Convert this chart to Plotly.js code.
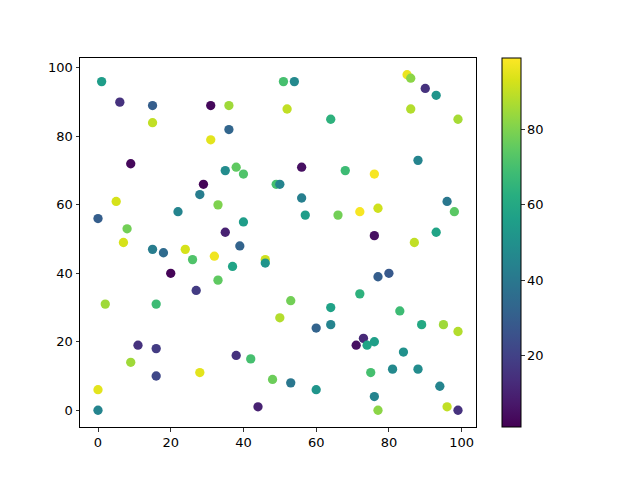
<!DOCTYPE html>
<html>
<head>
<meta charset="utf-8">
<script src="https://cdn.plot.ly/plotly-3.0.1.min.js"></script>
<style>
  html, body { margin: 0; padding: 0; background: #fff; }
  #chart { width: 640px; height: 480px; }
</style>
</head>
<body>
<div id="chart"></div>
<script>
// point positions
var xs = [1, 6, 15, 31, 36, 15, 36, 31, 9, 35,
          38, 40, 5, 29, 28, 33, 22, 40, 35, 8,
          0, 7, 15, 18, 24, 26, 39, 32, 37, 46,
          46, 20, 33, 2, 16, 27, 11, 16, 9, 16,
          28, 38, 42, 0, 0, 44, 51, 54, 85, 86,
          90, 93, 52, 86, 64, 99, 56, 68, 76, 88,
          49, 50, 56, 77, 72, 57, 66, 96, 98, 93,
          87, 76, 77, 80, 72, 53, 64, 83, 50, 60,
          64, 89, 95, 99, 73, 71, 74, 76, 84, 75,
          81, 88, 48, 53, 60, 94, 76, 77, 96, 99];
var ys = [96, 90, 89, 89, 89, 84, 82, 79, 72, 70,
          71, 69, 61, 66, 63, 60, 58, 55, 52, 53,
          56, 49, 47, 46, 47, 44, 48, 45, 42, 44,
          43, 40, 38, 31, 31, 35, 19, 18, 14, 10,
          11, 16, 15, 6, 0, 1, 96, 96, 98, 97,
          94, 92, 88, 88, 85, 85, 71, 70, 69, 73,
          66, 66, 62, 59, 58, 57, 57, 61, 58, 52,
          49, 51, 39, 40, 34, 32, 30, 29, 27, 24,
          25, 25, 25, 23, 21, 19, 19, 20, 17, 11,
          12, 12, 9, 8, 6, 7, 4, 0, 1, 0];
// colour values (viridis)
var colors = [55, 15, 30, 3, 85, 90, 33, 95, 3, 48,
              75, 72, 93, 2, 42, 80, 45, 55, 10, 78,
              30, 93, 42, 35, 93, 72, 32, 97, 58, 92,
              52, 2, 75, 85, 68, 18, 15, 18, 85, 22,
              95, 15, 70, 95, 45, 10, 70, 47, 96, 82,
              15, 52, 90, 88, 64, 86, 5, 68, 98, 45,
              70, 45, 43, 92, 98, 55, 78, 40, 74, 58,
              90, 5, 30, 28, 64, 78, 57, 68, 88, 32,
              45, 60, 85, 88, 12, 5, 58, 56, 50, 70,
              47, 48, 77, 40, 52, 45, 45, 82, 90, 15];

var tickVals = [0, 20, 40, 60, 80, 100];
var cbarTicks = [20, 40, 60, 80];

var trace = {
    x: xs,
    y: ys,
    mode: 'markers',
    type: 'scatter',
    marker: {
        size: 9.3,
        color: colors,
        colorscale: 'Viridis',
        cmin: 1,
        cmax: 99,
        line: { width: 0 },
        colorbar: {
            x: 1.066,
            xanchor: 'left',
            y: 0.5,
            yanchor: 'middle',
            len: 1,
            lenmode: 'fraction',
            thickness: 19,
            thicknessmode: 'pixels',
            xpad: 0,
            ypad: 0,
            outlinewidth: 1,
            outlinecolor: '#000',
            ticks: 'outside',
            ticklen: 3.5,
            tickwidth: 0.8,
            tickcolor: '#000',
            tickvals: cbarTicks,
            tickfont: { size: 13, color: '#000' }
        }
    },
    hoverinfo: 'x+y'
};

var axisStyle = {
    showgrid: false,
    zeroline: false,
    showline: true,
    linecolor: '#000',
    linewidth: 1,
    mirror: true,
    ticks: 'outside',
    ticklen: 3.5,
    tickwidth: 0.8,
    tickcolor: '#000',
    tickvals: tickVals,
    tickfont: { size: 13, color: '#000' }
};

var layout = {
    width: 640,
    height: 480,
    font: { family: 'DejaVu Sans', size: 13, color: '#000' },
    showlegend: false,
    paper_bgcolor: '#fff',
    plot_bgcolor: '#fff',
    margin: { l: 80, r: 164, t: 58, b: 53 },
    xaxis: Object.assign({}, axisStyle, { range: [-4.95, 103.95] }),
    yaxis: Object.assign({}, axisStyle, { range: [-4.9, 102.9] }),
    hovermode: 'closest'
};

Plotly.newPlot('chart', [trace], layout, { displayModeBar: false, staticPlot: true });
</script>
</body>
</html>
